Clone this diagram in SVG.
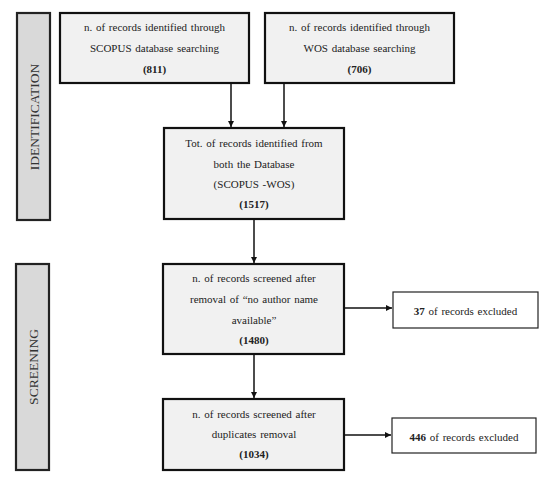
<svg xmlns="http://www.w3.org/2000/svg" width="550" height="481" viewBox="0 0 550 481">
<defs>
<style>
text{font-family:"Liberation Serif","DejaVu Serif",serif;font-size:11px;word-spacing:1px;fill:#222;text-anchor:middle}
.b{font-weight:bold}
.side{fill:#d9d9d9;stroke:#222;stroke-width:2.2}
.side-t{font-size:13.5px;word-spacing:0;fill:#333}
.box{fill:#f1f1f1;stroke:#111;stroke-width:2.2}
.ex{fill:#fff;stroke:#222;stroke-width:1.2}
.c{stroke:#111;stroke-width:1.5;fill:none;marker-end:url(#ah)}
</style>
<marker id="ah" viewBox="0 0 10 10" refX="10" refY="5" markerWidth="6" markerHeight="6" markerUnits="userSpaceOnUse" orient="auto">
<path d="M0,0 L10,5 L0,10 z" fill="#111"/>
</marker>
</defs>
<rect width="550" height="481" fill="#fff"/>
<g id="identification">
<rect class="side" x="17" y="13" width="33" height="207"/>
<text class="side-t" transform="translate(38.5,117) rotate(-90)">IDENTIFICATION</text>
</g>
<g id="screening">
<rect class="side" x="16" y="264" width="33" height="206"/>
<text class="side-t" transform="translate(37.5,367) rotate(-90)">SCREENING</text>
</g>
<g id="scopus">
<rect class="box" x="60" y="13" width="189" height="70"/>
<text x="154.5" y="30.5">n. of records identified through</text>
<text x="154.5" y="51.5">SCOPUS database searching</text>
<text class="b" x="154.5" y="72.5">(811)</text>
</g>
<g id="wos">
<rect class="box" x="265" y="13" width="189" height="70"/>
<text x="359.5" y="30.5">n. of records identified through</text>
<text x="359.5" y="51.5">WOS database searching</text>
<text class="b" x="359.5" y="72.5">(706)</text>
</g>
<g id="total">
<rect class="box" x="164" y="128" width="180" height="91"/>
<text x="254" y="146.5">Tot. of records identified from</text>
<text x="254" y="167.5">both the Database</text>
<text x="254" y="187.5">(SCOPUS -WOS)</text>
<text class="b" x="254" y="207.5">(1517)</text>
</g>
<g id="screened1">
<rect class="box" x="163" y="264" width="181" height="90"/>
<text x="254" y="281.5">n. of records screened after</text>
<text x="254" y="302.5">removal of “no author name</text>
<text x="254" y="323.5">available”</text>
<text class="b" x="254" y="343.5">(1480)</text>
</g>
<g id="screened2">
<rect class="box" x="163" y="399" width="181" height="71"/>
<text x="254" y="417.5">n. of records screened after</text>
<text x="254" y="437.5">duplicates removal</text>
<text class="b" x="254" y="457.5">(1034)</text>
</g>
<g id="excluded1">
<rect class="ex" x="393" y="292" width="145" height="36"/>
<text x="465.5" y="314.5"><tspan class="b">37</tspan> of records excluded</text>
</g>
<g id="excluded2">
<rect class="ex" x="392" y="418" width="144" height="35"/>
<text x="464" y="440.5"><tspan class="b">446</tspan> of records excluded</text>
</g>
<g id="connectors">
<line class="c" x1="231" y1="83" x2="231" y2="127"/>
<line class="c" x1="284" y1="83" x2="284" y2="127"/>
<line class="c" x1="254" y1="219" x2="254" y2="263"/>
<line class="c" x1="254" y1="354" x2="254" y2="398"/>
<line class="c" x1="344" y1="308" x2="392" y2="308"/>
<line class="c" x1="344" y1="435" x2="391" y2="435"/>
</g>
</svg>
